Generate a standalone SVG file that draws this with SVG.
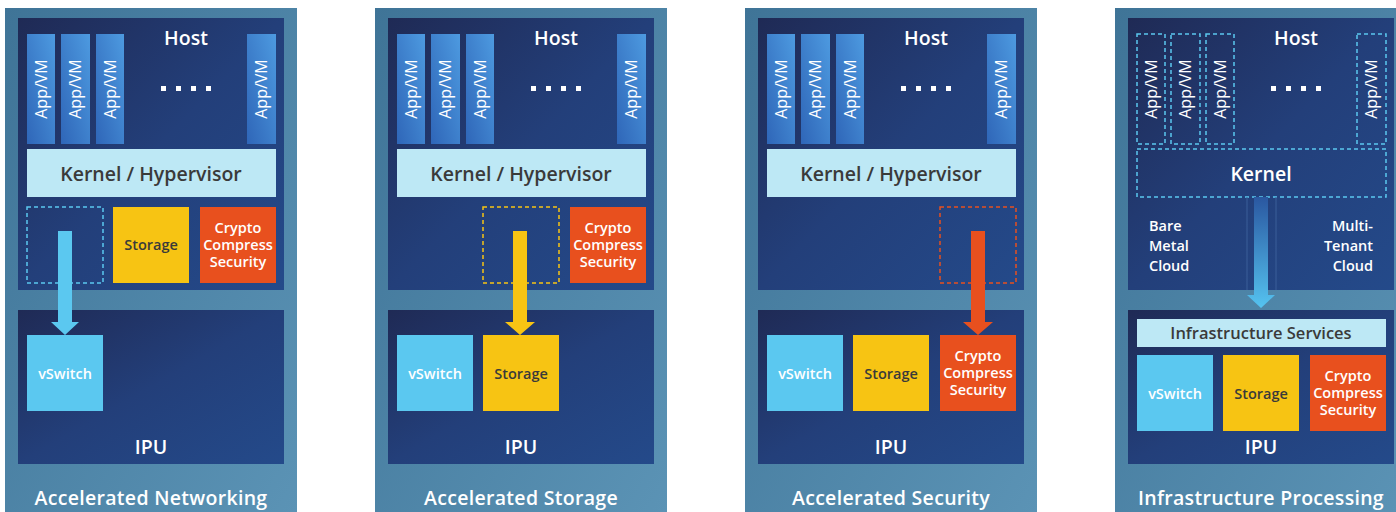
<svg xmlns="http://www.w3.org/2000/svg" width="1396" height="512" viewBox="0 0 1396 512">
<defs>
<linearGradient id="gOuter" x1="0" y1="0" x2="1" y2="1"><stop offset="0" stop-color="#3f7497"/><stop offset="1" stop-color="#5b93b5"/></linearGradient>
<linearGradient id="gBox" x1="0" y1="0" x2="1" y2="1"><stop offset="0" stop-color="#1f2a55"/><stop offset="0.5" stop-color="#233f7a"/><stop offset="1" stop-color="#244a8a"/></linearGradient>
<linearGradient id="gApp" x1="0" y1="1" x2="1" y2="0"><stop offset="0" stop-color="#2f66b8"/><stop offset="1" stop-color="#4d9ae0"/></linearGradient>
<linearGradient id="gArrow4" x1="0" y1="0" x2="0" y2="1"><stop offset="0" stop-color="#2a57a0"/><stop offset="1" stop-color="#55c3f0"/></linearGradient>
<style>
.t{font-family:"Open Sans","Noto Sans","Liberation Sans",sans-serif;font-weight:600;text-anchor:middle}
.w{fill:#ffffff}
.d{fill:#3a3a3a}
.big{font-size:19.5px}
.title{font-size:19.5px;fill:#ffffff;letter-spacing:0.3px}
.sm{font-size:14.5px}
.cl{font-size:14.5px}
.app{font-size:16px;fill:#ffffff;font-weight:400}
.outer{fill:url(#gOuter)}
.box{fill:url(#gBox)}
.appbar{fill:url(#gApp)}
.kern{fill:#bde8f5}
.cyan{fill:#5bc8f0}
.yel{fill:#f7c413}
.org{fill:#e8501e}
.dot{fill:#ffffff}
.dash{fill:none;stroke-width:1.5;stroke-dasharray:4 3}
</style>
</defs>
<rect width="1396" height="512" fill="#ffffff"/>

<!-- Panel 1 -->
<g id="panel1">
<rect class="outer" x="5" y="8" width="292" height="504"/>
<rect class="box" x="18" y="18" width="266" height="272"/>
<rect class="box" x="18" y="310" width="266" height="154"/>
<text class="t w big" x="186" y="45">Host</text>
<rect class="appbar" x="27" y="34" width="28" height="110"/>
<rect class="appbar" x="61" y="34" width="29" height="110"/>
<rect class="appbar" x="96" y="34" width="28" height="110"/>
<rect class="appbar" x="247" y="34" width="29" height="110"/>
<text class="t app" transform="translate(46.5,89) rotate(-90)">App/VM</text>
<text class="t app" transform="translate(81,89) rotate(-90)">App/VM</text>
<text class="t app" transform="translate(115.5,89) rotate(-90)">App/VM</text>
<text class="t app" transform="translate(267,89) rotate(-90)">App/VM</text>
<rect class="dot" x="161" y="86" width="5" height="5"/><rect class="dot" x="176" y="86" width="5" height="5"/><rect class="dot" x="191" y="86" width="5" height="5"/><rect class="dot" x="206" y="86" width="5" height="5"/>
<rect class="kern" x="27" y="149" width="249" height="48"/>
<text class="t d big" x="151" y="181">Kernel / Hypervisor</text>
<rect class="dash" stroke="#5bc8f0" x="27" y="207" width="76" height="76"/>
<rect class="yel" x="113" y="207" width="76" height="76"/>
<text class="t d sm" x="151" y="250">Storage</text>
<rect class="org" x="200" y="207" width="76" height="76"/>
<text class="t w sm" x="238" y="233">Crypto</text><text class="t w sm" x="238" y="250">Compress</text><text class="t w sm" x="238" y="267">Security</text>
<rect class="cyan" x="27" y="335" width="76" height="76"/>
<text class="t w sm" x="65" y="379">vSwitch</text>
<text class="t w big" x="151" y="454">IPU</text>
<text class="t title" x="151" y="505">Accelerated Networking</text>
</g>

<!-- Panel 2 -->
<g id="panel2">
<rect class="outer" x="375" y="8" width="292" height="504"/>
<rect class="box" x="388" y="18" width="266" height="272"/>
<rect class="box" x="388" y="310" width="266" height="154"/>
<text class="t w big" x="556" y="45">Host</text>
<rect class="appbar" x="397" y="34" width="28" height="110"/>
<rect class="appbar" x="431" y="34" width="29" height="110"/>
<rect class="appbar" x="466" y="34" width="28" height="110"/>
<rect class="appbar" x="617" y="34" width="29" height="110"/>
<text class="t app" transform="translate(416.5,89) rotate(-90)">App/VM</text>
<text class="t app" transform="translate(451,89) rotate(-90)">App/VM</text>
<text class="t app" transform="translate(485.5,89) rotate(-90)">App/VM</text>
<text class="t app" transform="translate(637,89) rotate(-90)">App/VM</text>
<rect class="dot" x="531" y="86" width="5" height="5"/><rect class="dot" x="546" y="86" width="5" height="5"/><rect class="dot" x="561" y="86" width="5" height="5"/><rect class="dot" x="576" y="86" width="5" height="5"/>
<rect class="kern" x="397" y="149" width="249" height="48"/>
<text class="t d big" x="521" y="181">Kernel / Hypervisor</text>
<rect class="dash" stroke="#f7c413" x="483" y="207" width="76" height="76"/>
<rect class="org" x="570" y="207" width="76" height="76"/>
<text class="t w sm" x="608" y="233">Crypto</text><text class="t w sm" x="608" y="250">Compress</text><text class="t w sm" x="608" y="267">Security</text>
<rect class="cyan" x="397" y="335" width="76" height="76"/>
<text class="t w sm" x="435" y="379">vSwitch</text>
<rect class="yel" x="483" y="335" width="76" height="76"/>
<text class="t d sm" x="521" y="379">Storage</text>
<text class="t w big" x="521" y="454">IPU</text>
<text class="t title" x="521" y="505">Accelerated Storage</text>
</g>

<!-- Panel 3 -->
<g id="panel3">
<rect class="outer" x="745" y="8" width="292" height="504"/>
<rect class="box" x="758" y="18" width="266" height="272"/>
<rect class="box" x="758" y="310" width="266" height="154"/>
<text class="t w big" x="926" y="45">Host</text>
<rect class="appbar" x="767" y="34" width="28" height="110"/>
<rect class="appbar" x="801" y="34" width="29" height="110"/>
<rect class="appbar" x="836" y="34" width="28" height="110"/>
<rect class="appbar" x="987" y="34" width="29" height="110"/>
<text class="t app" transform="translate(786.5,89) rotate(-90)">App/VM</text>
<text class="t app" transform="translate(821,89) rotate(-90)">App/VM</text>
<text class="t app" transform="translate(855.5,89) rotate(-90)">App/VM</text>
<text class="t app" transform="translate(1007,89) rotate(-90)">App/VM</text>
<rect class="dot" x="901" y="86" width="5" height="5"/><rect class="dot" x="916" y="86" width="5" height="5"/><rect class="dot" x="931" y="86" width="5" height="5"/><rect class="dot" x="946" y="86" width="5" height="5"/>
<rect class="kern" x="767" y="149" width="249" height="48"/>
<text class="t d big" x="891" y="181">Kernel / Hypervisor</text>
<rect class="dash" stroke="#e8501e" x="940" y="207" width="76" height="76"/>
<rect class="cyan" x="767" y="335" width="76" height="76"/>
<text class="t w sm" x="805" y="379">vSwitch</text>
<rect class="yel" x="853" y="335" width="76" height="76"/>
<text class="t d sm" x="891" y="379">Storage</text>
<rect class="org" x="940" y="335" width="76" height="76"/>
<text class="t w sm" x="978" y="361">Crypto</text><text class="t w sm" x="978" y="378">Compress</text><text class="t w sm" x="978" y="395">Security</text>
<text class="t w big" x="891" y="454">IPU</text>
<text class="t title" x="891" y="505">Accelerated Security</text>
</g>

<!-- Panel 4 -->
<g id="panel4">
<rect class="outer" x="1115" y="8" width="292" height="504"/>
<rect class="box" x="1128" y="18" width="266" height="272"/>
<rect class="box" x="1128" y="310" width="266" height="154"/>
<text class="t w big" x="1296" y="45">Host</text>
<rect class="dash" stroke="#5bc8f0" fill="#1e2a55" x="1137" y="34" width="28" height="110"/>
<rect class="dash" stroke="#5bc8f0" fill="#1e2a55" x="1171" y="34" width="29" height="110"/>
<rect class="dash" stroke="#5bc8f0" fill="#1e2a55" x="1206" y="34" width="28" height="110"/>
<rect class="dash" stroke="#5bc8f0" fill="#1e2a55" x="1357" y="34" width="29" height="110"/>
<text class="t app" transform="translate(1156.5,89) rotate(-90)">App/VM</text>
<text class="t app" transform="translate(1191,89) rotate(-90)">App/VM</text>
<text class="t app" transform="translate(1225.5,89) rotate(-90)">App/VM</text>
<text class="t app" transform="translate(1377,89) rotate(-90)">App/VM</text>
<rect class="dot" x="1271" y="86" width="5" height="5"/><rect class="dot" x="1286" y="86" width="5" height="5"/><rect class="dot" x="1301" y="86" width="5" height="5"/><rect class="dot" x="1316" y="86" width="5" height="5"/>
<rect class="dash" stroke="#5bc8f0" fill="#1e2a55" x="1137" y="149" width="249" height="48"/>
<text class="t w big" x="1261" y="181">Kernel</text>
<line x1="1247" y1="197" x2="1247" y2="290" stroke="#3a5f99" stroke-width="1"/>
<line x1="1276" y1="197" x2="1276" y2="290" stroke="#3a5f99" stroke-width="1"/>
<text class="t w cl" style="text-anchor:start" x="1149" y="231">Bare</text>
<text class="t w cl" style="text-anchor:start" x="1149" y="251">Metal</text>
<text class="t w cl" style="text-anchor:start" x="1149" y="271">Cloud</text>
<text class="t w cl" style="text-anchor:end" x="1373" y="231">Multi-</text>
<text class="t w cl" style="text-anchor:end" x="1373" y="251">Tenant</text>
<text class="t w cl" style="text-anchor:end" x="1373" y="271">Cloud</text>
<rect class="kern" x="1137" y="319" width="249" height="28"/>
<text class="t d" style="font-size:16.5px" x="1261" y="339">Infrastructure Services</text>
<rect class="cyan" x="1137" y="355" width="76" height="76"/>
<text class="t w sm" x="1175" y="399">vSwitch</text>
<rect class="yel" x="1223" y="355" width="76" height="76"/>
<text class="t d sm" x="1261" y="399">Storage</text>
<rect class="org" x="1310" y="355" width="76" height="76"/>
<text class="t w sm" x="1348" y="381">Crypto</text><text class="t w sm" x="1348" y="398">Compress</text><text class="t w sm" x="1348" y="415">Security</text>
<text class="t w big" x="1261" y="454">IPU</text>
<text class="t title" x="1261" y="505">Infrastructure Processing</text>
</g>

<!-- Connectors -->
<g id="connectors">
<path d="M58 231 H72 V322 H79 L65 335 L51 322 H58 Z" fill="#5bc8f0"/>
<path d="M513 231 H527 V322 H535 L520 335 L505 322 H513 Z" fill="#f7c413"/>
<path d="M971 231 H985 V322 H993 L978 335 L963 322 H971 Z" fill="#e8501e"/>
<path d="M1254 197 H1268 V295 H1275 L1261 308 L1247 295 H1254 Z" fill="url(#gArrow4)"/>
</g>
</svg>
